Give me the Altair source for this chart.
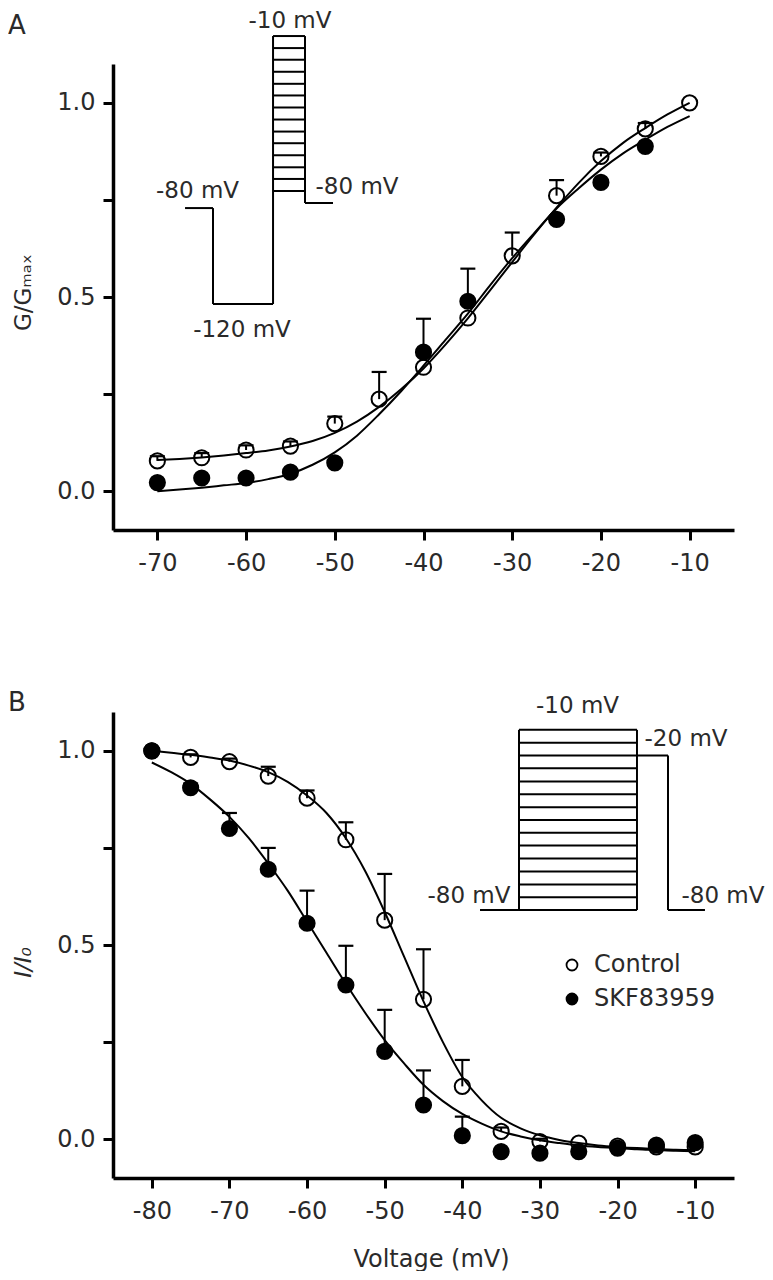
import altair as alt
import pandas as pd

FONT = "DejaVu Sans"
TXT = "#2a2a2a"

# ---------------- Panel A : activation (G/Gmax) ----------------
vA = [-70, -65, -60, -55, -50, -45, -40, -35, -30, -25, -20, -15, -10]
ctrlA = [0.078, 0.086, 0.106, 0.116, 0.174, 0.237, 0.319, 0.446, 0.606, 0.761, 0.862, 0.933, 1.0]
ctrlA_err = [0.012, 0.012, 0.012, 0.012, 0.018, 0.07, 0.0, 0.0, 0.06, 0.04, 0.01, 0.015, 0.0]
skfA_v = [-70, -65, -60, -55, -50, -40, -35, -25, -20, -15]
skfA = [0.022, 0.034, 0.034, 0.049, 0.073, 0.358, 0.489, 0.70, 0.795, 0.888]
skfA_err = [0, 0, 0, 0, 0, 0.086, 0.084, 0, 0, 0]

fitA_v = [-70, -67.5, -65, -62.5, -60, -57.5, -55, -52.5, -50, -47.5, -45, -42.5, -40,
          -37.5, -35, -32.5, -30, -27.5, -25, -22.5, -20, -17.5, -15, -12.5, -10]
fitA_ctrl = [0.080, 0.083, 0.087, 0.092, 0.098, 0.105, 0.115, 0.129, 0.150, 0.179, 0.217,
             0.263, 0.316, 0.378, 0.445, 0.517, 0.590, 0.662, 0.730, 0.794, 0.850, 0.897,
             0.935, 0.970, 1.0]
fitA_skf = [0.0, 0.004, 0.009, 0.015, 0.021, 0.031, 0.045, 0.068, 0.100, 0.143, 0.198,
            0.258, 0.323, 0.390, 0.457, 0.530, 0.600, 0.665, 0.728, 0.780, 0.828, 0.870,
            0.905, 0.938, 0.966]

# Protocol inset A (voltage-axis / G-axis units)
insA_x1 = [-66.88, -63.73, -63.73, -56.96, -53.36, -53.36]
insA_y1 = [0.729, 0.729, 0.482, 0.482, 1.172, 0.742]
insA_x2 = [-63.73, -63.73, -56.96, -56.96, -53.36, -50.20]
insA_y2 = [0.729, 0.482, 0.482, 1.172, 0.742, 0.742]
stepsA = [1.172, 1.141, 1.111, 1.080, 1.049, 1.019, 0.988, 0.957, 0.926, 0.896, 0.865,
          0.834, 0.804, 0.773]
stepsA_x = [-56.96, -53.36]
labA_text = ["-80 mV", "-120 mV", "-10 mV", "-80 mV"]
labA_x = [-65.47, -60.46, -55.05, -47.49]
labA_y = [0.755, 0.397, 1.192, 0.765]

# ---------------- Panel B : inactivation (I/I0) ----------------
vB = [-80, -75, -70, -65, -60, -55, -50, -45, -40, -35, -30, -25, -20, -15, -10]
ctrlB = [1.0, 0.983, 0.972, 0.935, 0.878, 0.771, 0.564, 0.36, 0.136, 0.02, -0.006, -0.01,
         -0.018, -0.02, -0.02]
ctrlB_err = [0, 0.008, 0.008, 0.024, 0.02, 0.045, 0.119, 0.129, 0.068, 0.01, 0.007, 0, 0, 0, 0]
skfB = [1.0, 0.905, 0.80, 0.695, 0.556, 0.397, 0.226, 0.088, 0.009, -0.032, -0.036, -0.032,
        -0.023, -0.015, -0.009]
skfB_err = [0, 0.011, 0.04, 0.055, 0.084, 0.101, 0.107, 0.089, 0.049, 0, 0, 0, 0, 0, 0]

fitB_v = [-80, -77.5, -75, -72.5, -70, -67.5, -65, -62.5, -60, -57.5, -55, -52.5, -50,
          -47.5, -45, -42.5, -40, -37.5, -35, -32.5, -30, -27.5, -25, -22.5, -20, -17.5,
          -15, -12.5, -10]
fitB_ctrl = [1.0, 0.995, 0.99, 0.983, 0.975, 0.962, 0.945, 0.92, 0.885, 0.84, 0.775, 0.69,
             0.585, 0.47, 0.355, 0.25, 0.16, 0.10, 0.055, 0.028, 0.01, -0.002, -0.01,
             -0.016, -0.020, -0.023, -0.025, -0.027, -0.028]
fitB_skf = [0.97, 0.945, 0.915, 0.875, 0.83, 0.775, 0.71, 0.64, 0.56, 0.48, 0.40, 0.325,
            0.255, 0.195, 0.14, 0.098, 0.065, 0.04, 0.02, 0.007, -0.003, -0.01, -0.016,
            -0.02, -0.023, -0.026, -0.028, -0.03, -0.031]

insB_x1 = [-37.72, -32.70, -17.50, -17.50, -13.50, -13.50]
insB_y1 = [0.590, 0.590, 1.054, 0.988, 0.988, 0.590]
insB_x2 = [-32.70, -32.70, -17.50, -13.50, -13.50, -8.74]
insB_y2 = [0.590, 1.054, 0.590, 0.988, 0.590, 0.590]
stepsB = [1.054, 1.021, 0.988, 0.955, 0.921, 0.888, 0.855, 0.822, 0.789, 0.756, 0.723,
          0.689, 0.656, 0.623, 0.590]
stepsB_x = [-32.70, -17.50]
labB_text = ["-10 mV", "-20 mV", "-80 mV", "-80 mV"]
labB_x = [-25.16, -11.18, -39.14, -6.42]
labB_y = [1.097, 1.012, 0.608, 0.608]

SERIES = ["Control", "SKF83959"]
W, H = 621, 466
YDOM = [-0.1, 1.1]


def pts_df(v1, y1, v2, y2):
    return pd.DataFrame({
        "V": list(v1) + list(v2),
        "val": list(y1) + list(y2),
        "series": [SERIES[0]] * len(v1) + [SERIES[1]] * len(v2),
        "ord": [0] * len(v1) + [1] * len(v2),
    })


def err_df(v1, y1, e1, v2, y2, e2):
    rows = []
    for s, vv, yy, ee in ((SERIES[0], v1, y1, e1), (SERIES[1], v2, y2, e2)):
        for a, b, c in zip(vv, yy, ee):
            if c > 0:
                rows.append({"V": a, "val": b, "top": b + c, "series": s})
    return pd.DataFrame(rows)


def fit_df(v, c, s):
    return pd.DataFrame({"V": list(v) * 2, "val": list(c) + list(s),
                         "series": [SERIES[0]] * len(v) + [SERIES[1]] * len(v)})


def seg_df(x1, y1, x2, y2, steps, sx):
    xs1 = list(x1) + [sx[0]] * len(steps)
    xs2 = list(x2) + [sx[1]] * len(steps)
    ys1 = list(y1) + list(steps)
    ys2 = list(y2) + list(steps)
    return pd.DataFrame({"x1": xs1, "x2": xs2, "y1": ys1, "y2": ys2})


def panel(xdom, xticks, xtitle, ytitle, ytitle_style, ytitle_y, pts, errs, fits, segs,
          labs, letter, legend):
    xs = alt.Scale(domain=xdom, nice=False, zero=False)
    ys = alt.Scale(domain=YDOM, nice=False, zero=False)
    xaxis = alt.Axis(values=xticks, labelExpr="'' + datum.value", title=xtitle,
                     titleX=318, titleY=88,
                     titleBaseline="alphabetic", titleAlign="center",
                     titleFontSize=24, titleFontWeight="normal", titleColor=TXT,
                     titleFont=FONT, labelPadding=11)
    yaxis = alt.Axis(values=[0, 0.25, 0.5, 0.75, 1.0],
                     labelExpr="(abs(datum.value - 0.25) < 0.01 || abs(datum.value - 0.75) < 0.01) ? '' : format(datum.value, '.1f')",
                     title=ytitle, titleAngle=270, titleX=-83, titleY=ytitle_y,
                     titleAlign="center", titleBaseline="alphabetic",
                     titleFontSize=23, titleFontWeight="normal", titleFontStyle=ytitle_style,
                     titleColor=TXT, titleFont=FONT, labelPadding=8)

    def X(f):
        return alt.X(f, type="quantitative", scale=xs, axis=xaxis, title=xtitle)

    def Y(f):
        return alt.Y(f, type="quantitative", scale=ys, axis=yaxis, title=ytitle)

    base_fit = alt.Chart(fits).mark_line(color="black", strokeWidth=2, interpolate="monotone").encode(
        x=X("V"), y=Y("val"), detail="series:N")
    stems = alt.Chart(errs).mark_rule(color="black", strokeWidth=2).encode(
        x=X("V"), y=Y("val"), y2=alt.Y2("top"))
    caps = alt.Chart(errs).mark_rule(color="black", strokeWidth=2.2, xOffset=-7.5, x2Offset=7.5).encode(
        x=X("V"), x2=alt.X2("V"), y=Y("top"))
    points = alt.Chart(pts).mark_circle(size=230, stroke="black", strokeWidth=2, opacity=1).encode(
        x=X("V"), y=Y("val"),
        fill=alt.Fill("series:N", scale=alt.Scale(domain=SERIES, range=["transparent", "black"]),
                      legend=legend),
        order=alt.Order("ord:Q"))
    ins = alt.Chart(segs).mark_rule(color="black", strokeWidth=2).encode(
        x=X("x1"), x2=alt.X2("x2"), y=Y("y1"), y2=alt.Y2("y2"))
    ins_txt = alt.Chart(labs).mark_text(font=FONT, fontSize=23, color=TXT, align="center",
                                        baseline="alphabetic").encode(
        x=X("x"), y=Y("y"), text="t:N")
    letter_txt = alt.Chart(pd.DataFrame({"t": [letter]})).mark_text(
        font=FONT, fontSize=26, color=TXT, align="left", baseline="alphabetic").encode(
        x=alt.value(-105), y=alt.value(-30 if letter == "A" else -1), text="t:N")
    return alt.layer(base_fit, ins, ins_txt, stems, caps, points, letter_txt).properties(
        width=W, height=H)


ptsA = pts_df(vA, ctrlA, skfA_v, skfA)
errA = err_df(vA, ctrlA, ctrlA_err, skfA_v, skfA, skfA_err)
fitA = fit_df(fitA_v, fitA_ctrl, fitA_skf)
segA = seg_df(insA_x1, insA_y1, insA_x2, insA_y2, stepsA, stepsA_x)
labA = pd.DataFrame({"t": labA_text, "x": labA_x, "y": labA_y})

ptsB = pts_df(vB, ctrlB, vB, skfB)
errB = err_df(vB, ctrlB, ctrlB_err, vB, skfB, skfB_err)
fitB = fit_df(fitB_v, fitB_ctrl, fitB_skf)
segB = seg_df(insB_x1, insB_y1, insB_x2, insB_y2, stepsB, stepsB_x)
labB = pd.DataFrame({"t": labB_text, "x": labB_x, "y": labB_y})

legendB = alt.Legend(orient="none", legendX=447, legendY=241, title=None,
                     symbolType="circle", symbolSize=120, symbolStrokeColor="black",
                     symbolStrokeWidth=1.8, symbolOpacity=1, labelFont=FONT,
                     labelFontSize=24, labelColor=TXT, labelOffset=10, rowPadding=10,
                     padding=0)

chartA = panel([-75, -5], [-70, -60, -50, -40, -30, -20, -10], None, "G/Gₘₐₓ", "normal", 228,
               ptsA, errA, fitA, segA, labA, "A", None)
chartB = panel([-85, -5], [-80, -70, -60, -50, -40, -30, -20, -10], "Voltage (mV)", "I/I₀",
               "italic", 250, ptsB, errB, fitB, segB, labB, "B", legendB)

chart = alt.vconcat(chartA, chartB, spacing=182, bounds="flush").resolve_scale(
    fill="independent").resolve_legend(fill="independent").properties(
    padding={"top": 2, "left": 0, "right": 0, "bottom": 0},
    background="white").configure_view(stroke=None).configure_axis(
    domainColor="black", domainWidth=3.5, tickColor="black", tickWidth=3, tickSize=10,
    labelFont=FONT, labelFontSize=24, labelColor=TXT, grid=False)

chart.save("out.html", embed_options={"renderer": "svg", "actions": False})
